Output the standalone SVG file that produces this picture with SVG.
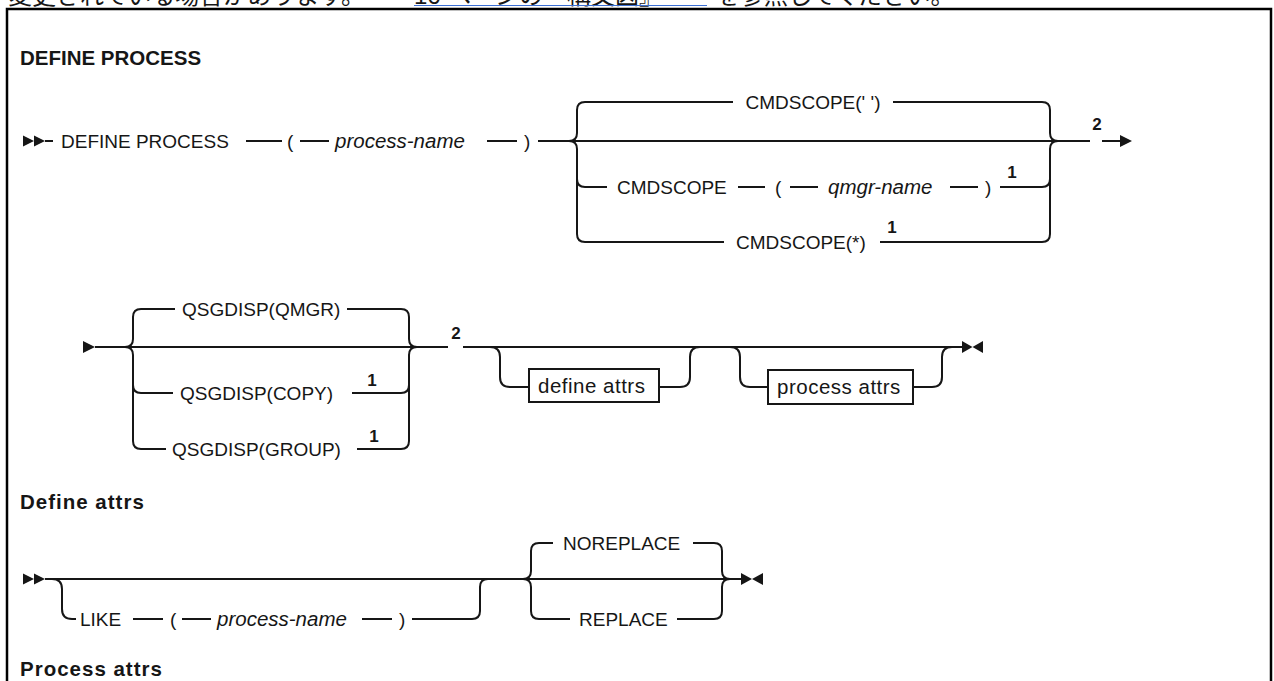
<svg xmlns="http://www.w3.org/2000/svg" width="1274" height="681" viewBox="0 0 1274 681">
<style>
.t{font-family:"Liberation Sans",Arial,sans-serif;font-size:19px;fill:#161616}
.v{font-family:"Liberation Sans",Arial,sans-serif;font-size:20.5px;font-style:italic;fill:#161616}
.b{font-family:"Liberation Sans",Arial,sans-serif;font-size:20.5px;fill:#161616;letter-spacing:0.5px}
.h{font-family:"Liberation Sans",Arial,sans-serif;font-size:20.5px;font-weight:bold;fill:#161616}
.hl{letter-spacing:1px}
.n{font-family:"Liberation Sans",Arial,sans-serif;font-size:17px;font-weight:bold;fill:#161616;text-anchor:middle}
.m{text-anchor:middle}
.jp{font-family:"Liberation Sans","Noto Sans CJK JP",sans-serif;font-size:24px;fill:#161616}
.ln{fill:none;stroke:#161616;stroke-width:2}
.bx{fill:#fff;stroke:#161616;stroke-width:2}
.ah{fill:#161616}
</style>
<rect width="1274" height="681" fill="#fff"/>
<g id="page-text">
<text class="jp" x="8" y="4">変更されている場合があります。</text>
<text class="jp" x="414" y="4">16 ページの『構文図』</text>
<text class="jp" x="716" y="4">を参照してください。</text>
<line x1="414" y1="5.5" x2="707" y2="5.5" stroke="#3b6fd4" stroke-width="1.2"/>
</g>
<rect id="frame" x="7" y="9" width="1264" height="700" fill="none" stroke="#000" stroke-width="2.5"/>
<g id="headings">
<text class="h" x="20" y="65">DEFINE PROCESS</text>
<text class="h hl" x="20" y="509">Define attrs</text>
<text class="h hl" x="20" y="676">Process attrs</text>
</g>
<g id="connectors">
<polygon class="ah" points="23,135.5 34,141 23,146.5"/>
<polygon class="ah" points="34,135.5 45,141 34,146.5"/>
<path class="ln" d="M45,141H53M246,141H282M300,141H329M487,141H517M538,141H1090M1102,141H1121"/>
<polygon class="ah" points="1120,135 1132,141 1120,147"/>
<path class="ln" d="M569,141Q577,141 577,133V110Q577,102 585,102H733M893,102H1042Q1050,102 1050,110V133Q1050,141 1058,141"/>
<path class="ln" d="M569,141Q577,141 577,149V234Q577,242 585,242H724M880,242H1042Q1050,242 1050,234V149Q1050,141 1058,141"/>
<path class="ln" d="M577,179Q577,187 585,187H607M738,187H765M790,187H818M950,187H978M1000,187H1042Q1050,187 1050,179"/>
<polygon class="ah" points="83,341 95,347 83,353"/>
<path class="ln" d="M95,347H448M463,347H962"/>
<path class="ln" d="M125,347Q133,347 133,339V317Q133,309 141,309H175M347,309H401Q409,309 409,317V339Q409,347 417,347"/>
<path class="ln" d="M125,347Q133,347 133,355V441Q133,449 141,449H166M357,449H401Q409,449 409,441V355Q409,347 417,347"/>
<path class="ln" d="M133,385Q133,393 141,393H173M352,393H401Q409,393 409,385"/>
<path class="ln" d="M490,347Q500,347 500,357V377Q500,387 510,387H529M659,387H680Q690,387 690,377V357Q690,347 700,347"/>
<path class="ln" d="M730,347Q740,347 740,357V377Q740,387 750,387H768M913,387H932Q942,387 942,377V357Q942,347 952,347"/>
<polygon class="ah" points="962,341 972.5,347 962,353"/>
<polygon class="ah" points="983,341 972.5,347 983,353"/>
<polygon class="ah" points="23,573.5 34,579 23,584.5"/>
<polygon class="ah" points="34,573.5 45,579 34,584.5"/>
<path class="ln" d="M45,579H741"/>
<path class="ln" d="M52,579Q62,579 62,589V609Q62,619 72,619H76M133,619H163M182,619H211M362,619H392M412,619H472Q480,619 480,611V587Q480,579 488,579"/>
<path class="ln" d="M523,579Q531,579 531,571V551Q531,543 539,543H553M693,543H714Q722,543 722,551V571Q722,579 730,579"/>
<path class="ln" d="M523,579Q531,579 531,587V611Q531,619 539,619H570M677,619H714Q722,619 722,611V587Q722,579 730,579"/>
<polygon class="ah" points="741,573 752,579 741,585"/>
<polygon class="ah" points="763,573 752,579 763,585"/>
</g>
<g id="n-define-process"><text class="t" x="61" y="148">DEFINE PROCESS</text></g>
<g id="n-lparen1"><text class="t" x="287" y="148">(</text></g>
<g id="n-process-name1"><text class="v" x="335" y="148">process-name</text></g>
<g id="n-rparen1"><text class="t" x="524" y="148">)</text></g>
<g id="n-cmdscope-blank"><text class="t m" x="813" y="109">CMDSCOPE(' ')</text></g>
<g id="n-cmdscope"><text class="t" x="617" y="194">CMDSCOPE</text></g>
<g id="n-lparen2"><text class="t" x="775" y="194">(</text></g>
<g id="n-qmgr-name"><text class="v" x="828" y="194">qmgr-name</text></g>
<g id="n-rparen2"><text class="t" x="985" y="194">)</text></g>
<g id="n-note1a"><text class="n" x="1012" y="178">1</text></g>
<g id="n-cmdscope-star"><text class="t" x="736" y="249">CMDSCOPE(*)</text></g>
<g id="n-note1b"><text class="n" x="892" y="233">1</text></g>
<g id="n-note2a"><text class="n" x="1097" y="130">2</text></g>
<g id="n-qsgdisp-qmgr"><text class="t" x="182" y="316">QSGDISP(QMGR)</text></g>
<g id="n-qsgdisp-copy"><text class="t" x="180" y="400">QSGDISP(COPY)</text></g>
<g id="n-note1c"><text class="n" x="372" y="386">1</text></g>
<g id="n-qsgdisp-group"><text class="t" x="172" y="456">QSGDISP(GROUP)</text></g>
<g id="n-note1d"><text class="n" x="374" y="442">1</text></g>
<g id="n-note2b"><text class="n" x="456" y="339">2</text></g>
<g id="n-define-attrs"><rect class="bx" x="529" y="369" width="130" height="33"/><text class="b" x="538" y="393">define attrs</text></g>
<g id="n-process-attrs"><rect class="bx" x="768" y="370" width="145" height="34"/><text class="b" x="777" y="394">process attrs</text></g>
<g id="n-like"><text class="t" x="80" y="626">LIKE</text></g>
<g id="n-lparen3"><text class="t" x="170" y="626">(</text></g>
<g id="n-process-name2"><text class="v" x="217" y="626">process-name</text></g>
<g id="n-rparen3"><text class="t" x="399" y="626">)</text></g>
<g id="n-noreplace"><text class="t" x="563" y="550">NOREPLACE</text></g>
<g id="n-replace"><text class="t" x="579" y="626">REPLACE</text></g>
</svg>
